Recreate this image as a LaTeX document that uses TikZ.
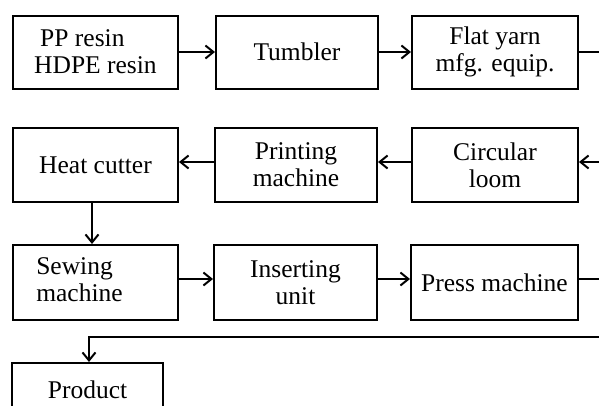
\documentclass[tikz,border=0pt]{standalone}
\usepackage{fontspec}
\setmainfont{Liberation Serif}
\usetikzlibrary{arrows.meta}
\tikzset{
  box/.style={draw, line width=2pt, inner sep=0pt, minimum height=73pt,
    align=center, font=\fontsize{25.5}{27}\selectfont},
  flow/.style={line width=2pt, -{Straight Barb[length=8pt,width=13pt,line width=2pt]}},
  link/.style={line width=2pt},
}
\begin{document}
\begin{tikzpicture}[x=1pt,y=-1pt]
  \useasboundingbox (0,0) rectangle (599,405);
  \clip (0,0) rectangle (599,405);
  % row 1
  \node[box, minimum width=165pt, align=left] (resin) at (95.5,52)
    {\hspace*{6pt}PP resin\\HDPE resin};
  \node[box, minimum width=162pt] (tumb) at (297,52) {Tumbler};
  \node[box, minimum width=166pt] (flat) at (495,52) {Flat yarn\\mfg. equip.};
  % row 2
  \node[box, minimum width=165pt, minimum height=74pt] (cut) at (95.5,165) {Heat cutter};
  \node[box, minimum width=162pt, minimum height=74pt] (print) at (296,165) {Printing\\machine};
  \node[box, minimum width=166pt, minimum height=74pt] (loom) at (495,165) {Circular\\loom};
  % row 3
  \node[box, minimum width=165pt, minimum height=75pt] (sew) at (95.5,282.5)
    {\begin{tabular}{@{}l@{}}Sewing\\machine\end{tabular}\hspace*{32pt}};
  \node[box, minimum width=163pt, minimum height=75pt] (ins) at (295.5,282.5) {Inserting\\unit};
  \node[box, minimum width=167pt, minimum height=75pt] (press) at (494.5,282.5) {Press machine};
  % product (runs past the lower edge)
  \node[box, minimum width=151pt, minimum height=80pt, anchor=north] (prod) at (87.5,362)
    {\raisebox{-26pt}{}Product};
  % free ends at the right edge
  \coordinate (outA) at (599,52);
  \coordinate (inB) at (599,162);
  \coordinate (outC) at (599,279);
  \coordinate (inD) at (599,337);
  % connectors
  \draw[flow] (resin) -- (tumb);
  \draw[flow] (tumb) -- (flat);
  \draw[link] (flat.east) -- (outA);
  \draw[flow] (inB) -- (inB -| loom.east);
  \draw[flow] (loom.west |- inB) -- (print.east |- inB);
  \draw[flow] (print.west |- inB) -- (cut.east |- inB);
  \draw[flow] (cut.south -| 92,0) -- (sew.north -| 92,0);
  \draw[flow] (sew.east |- outC) -- (ins.west |- outC);
  \draw[flow] (ins.east |- outC) -- (press.west |- outC);
  \draw[link] (press.east |- outC) -- (outC);
  \draw[flow] (inD) -- (inD -| 89,0) -- (prod.north -| 89,0);
\end{tikzpicture}
\end{document}
